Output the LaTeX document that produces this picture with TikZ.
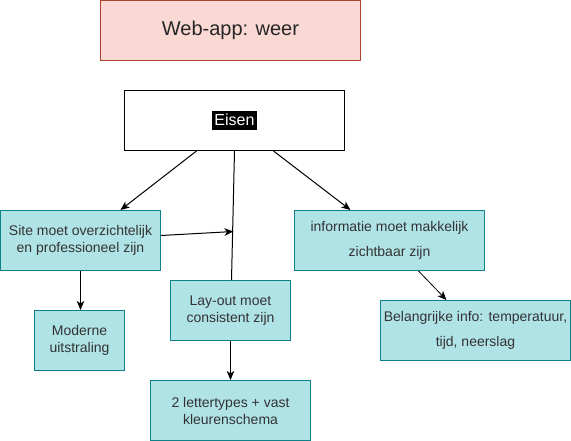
\documentclass[tikz,border=0pt]{standalone}
\usepackage{fontspec}
\setmainfont{Liberation Sans}
\usetikzlibrary{arrows.meta}
\definecolor{tealfill}{HTML}{B0E3E6}
\definecolor{tealline}{HTML}{0E8088}
\definecolor{redfill}{HTML}{FAD9D5}
\definecolor{redline}{HTML}{AE4132}
\newcommand{\blackbg}[1]{{\fboxsep=0pt\colorbox{black}{\rule[-4.1pt]{0pt}{19.2pt}\hspace{2pt}\textcolor{white}{#1}\hspace{2pt}}}}
\begin{document}
\begin{tikzpicture}[x=1pt, y=-1pt,
    main/.style = {draw=tealline, fill=tealfill, line width=1pt, inner sep=0pt, minimum height=60pt, align=center, text=black!80, font=\fontsize{14}{17}\selectfont},
    wide/.style = {main, font=\fontsize{14}{25}\selectfont},
    head/.style = {draw=redline, fill=redfill, line width=1pt, inner sep=0pt, minimum width=260pt, minimum height=60pt, text=black!85, font=\fontsize{20}{24}\selectfont},
    eis/.style = {draw, fill=white, line width=1pt, inner sep=0pt, minimum width=220pt, minimum height=60pt, font=\fontsize{16}{19}\selectfont},
    arr/.style = {-{Stealth[length=9pt,width=7.5pt,inset=2.5pt]}, line width=1pt}]
            \useasboundingbox (-0.5,-0.5) rectangle (570.5,440.5);
            \node[head] (0) at (230,30) {Web-app: weer};
            \node[eis] (1) at (234,120) {\blackbg{Eisen}};
            \node[main, minimum width=160pt] (2) at (80,240) {Site moet overzichtelijk\\en professioneel zijn};
            \node[wide, minimum width=190pt] (3) at (389,240) {informatie moet makkelijk\\zichtbaar zijn};
            \node[main, minimum width=90pt] (4) at (79,340) {Moderne\\uitstraling};
            \node[main, minimum width=120pt] (5) at (230,310) {Lay-out moet\\consistent zijn};
            \node[main, minimum width=160pt] (6) at (230,410) {2 lettertypes + vast\\kleurenschema};
            \node[wide, minimum width=190pt] (7) at (475,330) {Belangrijke info: temperatuur,\\tijd, neerslag};
            \coordinate (8) at (233,231);
            \draw[arr] ([xshift=-38pt]1.south) -- ([xshift=40pt]2.north);
            \draw[arr] ([xshift=39pt]1.south) -- ([xshift=-39pt]3.north);
            \draw[line width=1pt] (1.south) -- ([xshift=1pt]5.north);
            \draw[arr] ([yshift=5pt]2.east) -- (8);
            \draw[arr] (2.south) -- ([xshift=1pt]4.north);
            \draw[arr] (5.south) -- (6.north);
            \draw[arr, line width=0.8pt] ([xshift=29pt]3.south) -- ([xshift=-29pt]7.north);
        \end{tikzpicture}
\end{document}
